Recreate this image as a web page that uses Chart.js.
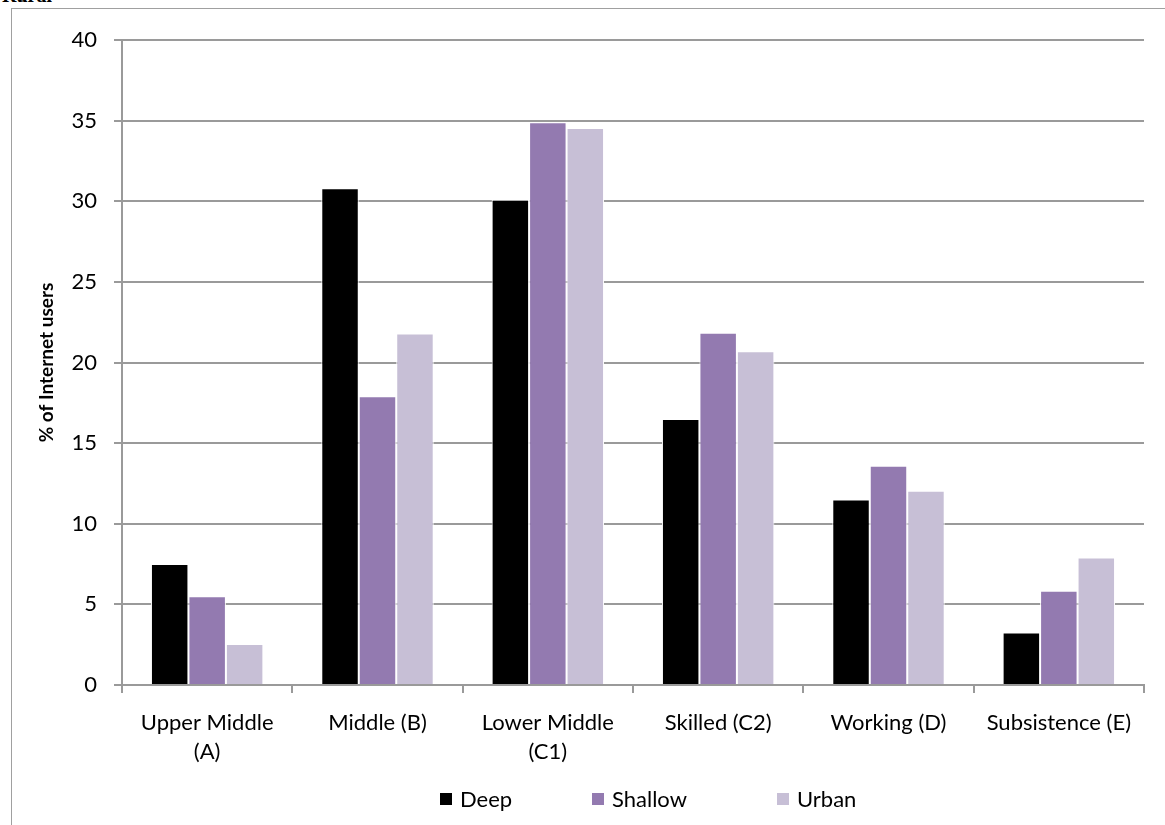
<!DOCTYPE html>
<html>
<head>
<meta charset="utf-8">
<script src="https://cdn.jsdelivr.net/npm/chart.js@4"></script>
<style>
  body{margin:0;background:#fff;overflow:hidden;}
  #wrap{position:relative;width:1165px;height:825px;}
  #frame{position:absolute;left:11px;top:8px;width:1200px;height:900px;border:1.5px solid #a0a0a0;box-sizing:border-box;}
  #cap{position:absolute;left:2px;top:-16px;font:bold 20px "Liberation Serif",serif;color:#000;}
  #legend{position:absolute;left:0;top:785px;width:1165px;height:30px;font:22px Lato,sans-serif;color:#000;}
  #legend span.item{position:absolute;top:0;display:flex;align-items:center;white-space:nowrap;}
  #legend i{display:inline-block;width:12px;height:12px;margin-right:8px;}
  canvas{position:absolute;left:0;top:0;}
</style>
</head>
<body>
<div id="wrap">
  <div id="frame"></div>
  <div id="cap">Rural</div>
  <canvas id="myChart" width="1165" height="825"></canvas>
  <div id="legend"></div>
</div>
<script>
const labels=[['Upper Middle','(A)'],'Middle (B)',['Lower Middle','(C1)'],'Skilled (C2)','Working (D)','Subsistence (E)'];
const deep=[7.5,30.8,30.1,16.5,11.5,3.25];
const shallow=[5.5,17.9,34.9,21.85,13.6,5.85];
const urban=[2.55,21.8,34.55,20.7,12.05,7.9];
const yTicks=[0,5,10,15,20,25,30,35,40];

const colors={Deep:'#000000',Shallow:'#937ab0',Urban:'#c7bfd6'};
const gridColor='#9a9a9a';
const legendLeft=[440,592,777];

let datasets=[
    {label:'Deep',data:deep,backgroundColor:colors.Deep},
    {label:'Shallow',data:shallow,backgroundColor:colors.Shallow},
    {label:'Urban',data:urban,backgroundColor:colors.Urban}
];
datasets.forEach(d=>{
    d.borderColor='#ffffff';
    d.borderWidth=1;
    d.categoryPercentage=0.66;
    d.barPercentage=1;
});

// html legend
let leg=document.getElementById('legend');
datasets.forEach((d,i)=>{
    let s=document.createElement('span');
    s.className='item';
    s.style.left=legendLeft[i]+'px';
    s.innerHTML='<i style="background:'+d.backgroundColor+'"></i>'+d.label;
    leg.appendChild(s);
});

const ctx=document.getElementById('myChart').getContext('2d');
const myChart=new Chart(ctx,{
    type:'bar',
    data:{labels:labels,datasets:datasets},
    options:{
        responsive:false,
        animation:false,
        layout:{padding:{left:0,right:21,top:40,bottom:45}},
        plugins:{
            legend:{display:false},
            tooltip:{enabled:false}
        },
        scales:{
            x:{
                grid:{display:true,drawOnChartArea:false,drawTicks:true,tickLength:8,color:gridColor,lineWidth:2},
                border:{color:gridColor,width:2},
                ticks:{color:'#000',font:{family:'Lato',size:22,lineHeight:1.3},padding:16,maxRotation:0,autoSkip:false},
                afterFit:function(s){s.height=95;}
            },
            y:{
                min:0,max:40,
                afterBuildTicks:function(s){s.ticks=yTicks.map(v=>({value:v}));},
                grid:{color:gridColor,lineWidth:2,tickLength:8},
                border:{color:gridColor,width:2},
                ticks:{color:'#000',font:{family:'Lato',size:22},padding:17},
                title:{display:true,text:'% of Internet users',color:'#000',font:{family:'Lato',size:19,weight:'bold'},padding:{top:35,bottom:0}},
                afterFit:function(s){s.width=122;}
            }
        }
    }
});
</script>
</body>
</html>
